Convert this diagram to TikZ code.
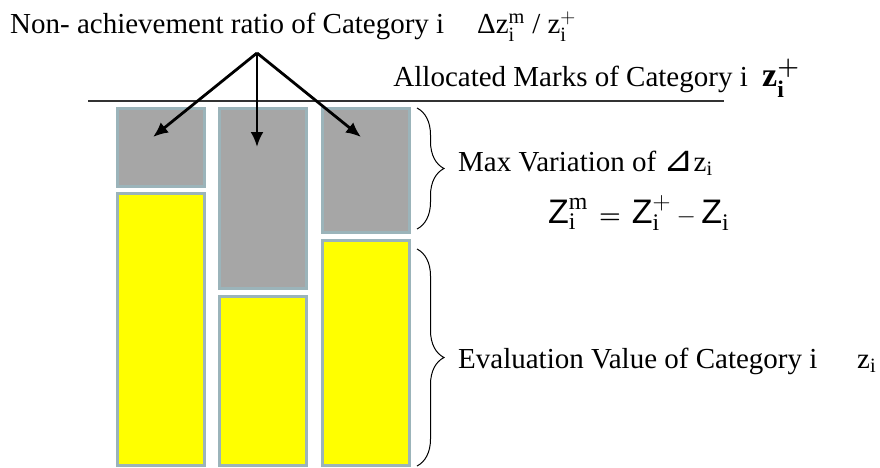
\documentclass[tikz,border=0pt]{standalone}
\usepackage{amsmath}
\usepackage{fontspec}
\setmainfont{Liberation Serif}
\setsansfont{Liberation Sans}
\newfontfamily\symfont{DejaVu Sans}
\usepackage{xcolor}
\usepackage{tikz}
\usetikzlibrary{arrows.meta,decorations.pathreplacing}

\definecolor{barEdge}{HTML}{9BB4BA}
\definecolor{barGray}{HTML}{A6A6A6}
\definecolor{barYellow}{HTML}{FFFF00}

\tikzset{
  gapbar/.style={fill=barGray,draw=barEdge,line width=3pt},
  valbar/.style={fill=barYellow,draw=barEdge,line width=3pt},
  ptr/.style={line width=2.8pt,-{Latex[length=15pt,width=13pt]}},
  rbrace/.style={decorate,decoration={brace,amplitude=27pt},line width=1pt},
  lbl/.style={inner sep=0pt,anchor=base west,font=\fontsize{29}{31}\selectfont},
}
\newcommand{\tz}{\text{z}}
\newcommand{\ti}{\text{i}}

\begin{document}
\begin{tikzpicture}[x=1pt,y=-1pt]
        \useasboundingbox (0,0) rectangle (880,467);
        % bars: gray = gap to allocated marks, yellow = evaluation value
        \path[gapbar] (117,108) rectangle (204,186);
        \path[valbar] (117,193) rectangle (204,465);
        \path[gapbar] (219,108) rectangle (306,288);
        \path[valbar] (219,296) rectangle (306,465);
        \path[gapbar] (322,108) rectangle (409,232);
        \path[valbar] (322,240) rectangle (409,465);
        % allocated marks line
        \coordinate (markL) at (88,101);
        \coordinate (markR) at (724,101);
        \draw[line width=1.6pt,black!80] (markL) -- (markR);
        % arrows to the gaps
        \coordinate (apex) at (257,53);
        \coordinate (gap1) at (153,137);
        \coordinate (gap2) at (257,147);
        \coordinate (gap3) at (361,137);
        \foreach \g in {gap1,gap2,gap3}{\draw[ptr] (apex) -- (\g);}
        % braces
        \coordinate (maxTop) at (417,108);
        \coordinate (maxBot) at (417,229);
        \coordinate (evalTop) at (417,249);
        \coordinate (evalBot) at (417,466);
        \draw[rbrace] (maxTop) -- (maxBot);
        \draw[rbrace] (evalTop) -- (evalBot);
        % labels
        \node[lbl] (ratioTxt) at (10,33) {Non- achievement ratio of Category i};
        \node[lbl] (ratioEq) at (477,33) {$\text{Δ}\tz_{\ti}^{\text{m}}$ / $\tz_{\ti}^{+}$};
        \node[lbl,anchor=base east] (allocTxt) at (748,86) {Allocated Marks of Category i};
        \node[lbl,font=\fontsize{34}{36}\selectfont\bfseries] (allocEq) at (762,86) {z$_{\textbf{i}}^{\boldsymbol{+}}$};
        \node[lbl] (maxTxt) at (458,171) {Max Variation of {\symfont\fontsize{36}{36}\selectfont ⊿}$\tz_{\ti}$};
        \node[lbl,font=\fontsize{34}{36}\selectfont] (maxEq) at (548,223) {$\textsf{Z}_{\ti}^{\text{m}}\,\boldsymbol{=}\,\textsf{Z}_{\ti}^{+}-\textsf{Z}_{\ti}$};
        \node[lbl] (evalTxt) at (458,368) {Evaluation Value of Category i};
        \node[lbl] (evalEq) at (857,368) {$\tz_{\ti}$};
      \end{tikzpicture}
\end{document}
